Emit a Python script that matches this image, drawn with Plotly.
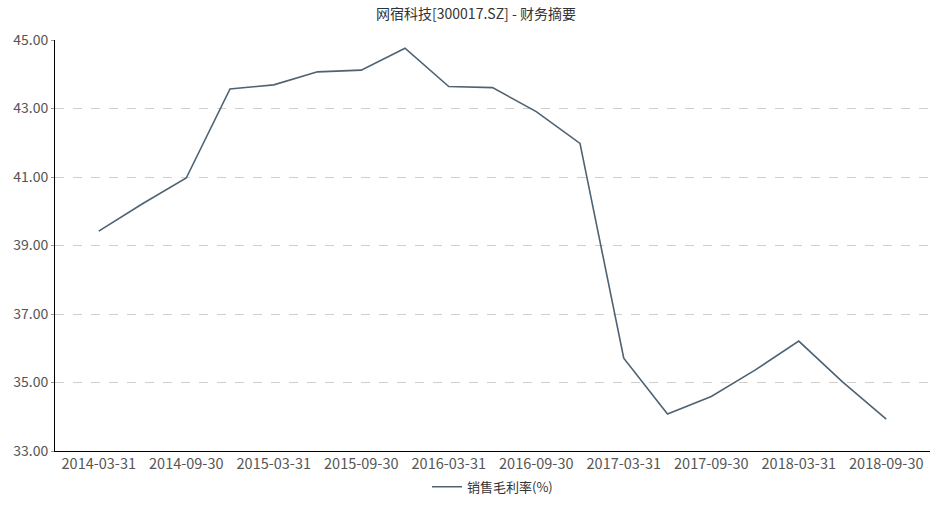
import plotly.graph_objects as go

# ---- data ----
dates = ['2014-03-31', '2014-06-30', '2014-09-30', '2014-12-31',
         '2015-03-31', '2015-06-30', '2015-09-30', '2015-12-31',
         '2016-03-31', '2016-06-30', '2016-09-30', '2016-12-31',
         '2017-03-31', '2017-06-30', '2017-09-30', '2017-12-31',
         '2018-03-31', '2018-06-30', '2018-09-30']
gross_margin = [39.42, 40.22, 40.97, 43.57, 43.69, 44.07, 44.12, 44.76,
                43.64, 43.61, 42.91, 41.98, 35.71, 34.08, 34.59, 35.36,
                36.21, 35.02, 33.93]
tick_labels = dates[::2]

font_family = "Noto Sans CJK SC, Microsoft YaHei, sans-serif"

fig = go.Figure()
fig.add_trace(go.Scatter(
    x=dates, y=gross_margin, mode='lines', name='销售毛利率(%)',
    line=dict(color='#4f6272', width=1.6),
))

fig.update_layout(
    width=952, height=505,
    paper_bgcolor='white', plot_bgcolor='white',
    margin=dict(l=55, r=22, t=40, b=54),
    font=dict(family=font_family, size=12, color='#333'),
    title=dict(text='网宿科技[300017.SZ] - 财务摘要', x=0.5, xanchor='center',
               y=0.972, yanchor='middle', font=dict(size=14, color='#333')),
    showlegend=True,
    legend=dict(orientation='h', x=0.5, xanchor='center', yref='container',
                y=0.036, yanchor='middle', font=dict(size=13, color='#333')),
)

fig.update_xaxes(
    type='category', range=[-1, 19], automargin=False,
    tickmode='array', tickvals=tick_labels, ticktext=tick_labels,
    showgrid=False, showline=True, linecolor='#000', linewidth=1,
    ticks='', tickfont=dict(size=14.5, color='#555'),
)
fig.update_yaxes(
    range=[33, 45], dtick=2, tick0=33, tickformat='.2f', automargin=False,
    showgrid=True, gridcolor='#cfcfcf', griddash='dash', gridwidth=1,
    zeroline=False, showline=True, linecolor='#000', linewidth=1,
    ticks='outside', ticklen=3, tickcolor='#999',
    tickfont=dict(size=14, color='#555'),
)

# drop the browser's default page margin so the figure sits at (0, 0)
fig.write_html("out.html", config={'displayModeBar': False},
               post_script="document.body.style.margin='0';")
